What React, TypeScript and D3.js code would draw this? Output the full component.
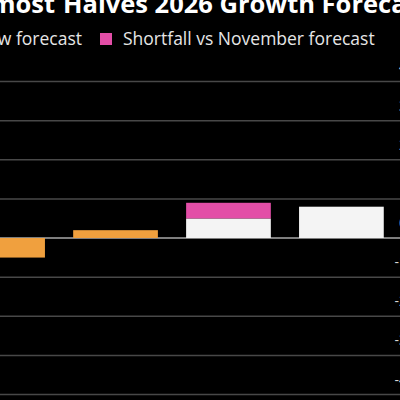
import * as d3 from "d3";

const categories = ["2024", "2025", "2026", "2027"];
const actualValues = [-0.5, 0.2, 0, 0];
const newForecastValues = [0, 0, 0.5, 0.8];
const shortfallValues = [0, 0, 0.4, 0];
const yTicks = [-4, -3, -2, -1, 0, 1, 2, 3, 4];

const seriesKeys = ["actual", "newForecast", "shortfall"];
const seriesNames = ["Actual", "New forecast", "Shortfall vs November forecast"];
const colors = { actual: "#f0a03e", newForecast: "#f4f4f4", shortfall: "#e34ea7" };

const W = 400;
const H = 400;
const font = "'Open Sans', 'Noto Sans', sans-serif";

export default function App() {
  const rows = categories.map((c, i) => ({
    year: c,
    actual: actualValues[i],
    newForecast: newForecastValues[i],
    shortfall: shortfallValues[i],
  }));

  const stacked = d3
    .stack<any>()
    .keys(seriesKeys)
    .offset(d3.stackOffsetDiverging)(rows);

  const x = d3.scaleBand().domain(categories).range([-68, 412]).padding(0.25);
  const y = d3.scaleLinear().domain([-4, 4]).range([394.5, 81.5]);

  return (
    <div style={{ position: "fixed", left: 0, top: 0, width: W, height: H, background: "#000" }}>
      <svg width={W} height={H} style={{ display: "block" }} fontFamily={font}>
        <rect width={W} height={H} fill="#000" />

        {/* title, only the middle of it is in view */}
        <text y={13} fontSize={25.5} fontWeight={700} fill="#fff">
          <tspan x={55} textAnchor="end">Germany Almost</tspan>
          <tspan x={63}>Halves 2026 Growth Forecast</tspan>
        </text>

        {/* legend */}
        <g fontSize={17.5} fill="#e6e6e6">
          <rect x={-172} y={33} width={12} height={12} fill={colors.actual} />
          <text x={-154} y={45}>{seriesNames[0]}</text>
          <rect x={-40} y={33} width={12} height={12} fill={colors.newForecast} />
          <text x={82} y={45} textAnchor="end">{seriesNames[1]}</text>
          <rect x={100} y={33} width={12} height={12} fill={colors.shortfall} />
          <text x={123} y={45}>{seriesNames[2]}</text>
        </g>

        {/* grid */}
        {yTicks.map((t) => (
          <g key={t}>
            <line
              x1={0}
              x2={W}
              y1={y(t)}
              y2={y(t)}
              stroke={t === 0 ? "#a8a8a8" : "#484848"}
              strokeWidth={1.5}
            />
            <text
              x={407}
              y={y(t) - 10}
              fontSize={14}
              fill="#d8d8d8"
              textAnchor="end"
            >
              {String(t)}
            </text>
          </g>
        ))}

        {/* bars */}
        {stacked.map((s) => (
          <g key={s.key} fill={(colors as any)[s.key]}>
            {s.map((d, i) => {
              const top = y(Math.max(d[0], d[1]));
              const bottom = y(Math.min(d[0], d[1]));
              if (bottom - top < 0.01) return null;
              return (
                <rect
                  key={i}
                  x={x(d.data.year)}
                  width={x.bandwidth()}
                  y={top}
                  height={bottom - top}
                />
              );
            })}
          </g>
        ))}
      </svg>
    </div>
  );
}
